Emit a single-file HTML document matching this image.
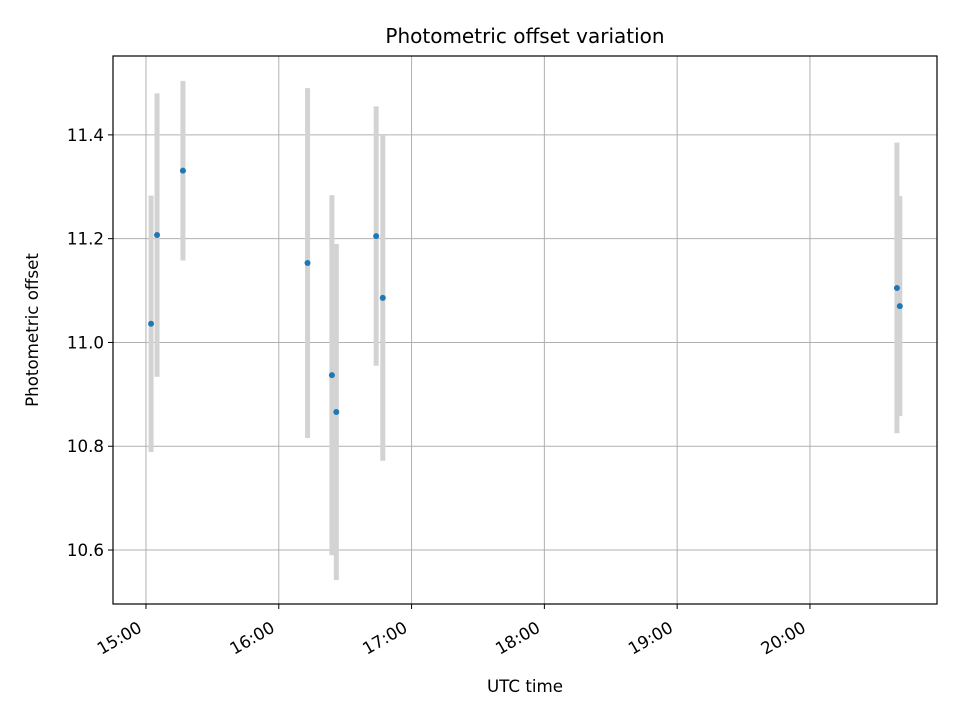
<!DOCTYPE html>
<html><head><meta charset="utf-8"><style>
body{margin:0;background:#fff}
svg{display:block;font-family:"DejaVu Sans","Liberation Sans",sans-serif}
</style></head><body>
<svg id="chart" width="960" height="720" viewBox="0 0 960 720" xmlns="http://www.w3.org/2000/svg">
<rect width="960" height="720" fill="#fff"/>
<g id="grid"></g>
<g id="errs"></g>
<g id="pts"></g>
<rect x="113" y="56" width="824" height="548" fill="none" stroke="#000" stroke-width="1.2"/>
<g id="ticks"></g>
<text x="525" y="43" text-anchor="middle" font-size="20">Photometric offset variation</text>
<text x="525" y="692" text-anchor="middle" font-size="16.7">UTC time</text>
<text transform="translate(38,330) rotate(-90)" text-anchor="middle" font-size="16.7">Photometric offset</text>
</svg>
<script>
// times in minutes after 15:00
const times=[2.3,5,16.7,73,84,86,104,107,339.3,340.6];
const values=[11.036,11.207,11.331,11.153,10.937,10.866,11.205,11.086,11.105,11.070];
const errors=[0.247,0.273,0.173,0.337,0.347,0.324,0.25,0.314,0.28,0.212];
const xTickLabels=["15:00","16:00","17:00","18:00","19:00","20:00"];
const xTickMinutes=[0,60,120,180,240,300];
const yTickValues=[10.6,10.8,11.0,11.2,11.4];
const yTickLabels=["10.6","10.8","11.0","11.2","11.4"];

const L=113,R=937,T=56,B=604;
const xmin=-14.9,xmax=357.4,ymin=10.496,ymax=11.552;
const X=m=>L+(m-xmin)/(xmax-xmin)*(R-L);
const Y=v=>B-(v-ymin)/(ymax-ymin)*(B-T);
const NS="http://www.w3.org/2000/svg";
function mk(tag,attrs,parent){const e=document.createElementNS(NS,tag);for(const k in attrs)e.setAttribute(k,attrs[k]);document.getElementById(parent).appendChild(e);return e;}

xTickMinutes.forEach((m,i)=>{
  const x=X(m);
  const g=mk("line",{x1:x,x2:x,y1:T,y2:B,stroke:"#b0b0b0","stroke-width":1},"grid");
  
  
  const t=mk("line",{x1:x,x2:x,y1:B,y2:B+5,stroke:"#000","stroke-width":1},"ticks");
  
  
  const lb=mk("text",{transform:`translate(${x-3},${B+27}) rotate(-30)`,"text-anchor":"end","font-size":"16.7"},"ticks");
  lb.textContent=xTickLabels[i];
  
  
});
yTickValues.forEach((v,i)=>{
  const y=Y(v);
  const g=mk("line",{x1:L,x2:R,y1:y,y2:y,stroke:"#b0b0b0","stroke-width":1},"grid");
  
  
  const t=mk("line",{x1:L-5,x2:L,y1:y,y2:y,stroke:"#000","stroke-width":1},"ticks");
  
  
  const lb=mk("text",{x:L-9,y:y+6,"text-anchor":"end","font-size":"16.7"},"ticks");
  lb.textContent=yTickLabels[i];
  
  
});
times.forEach((m,i)=>{
  const x=X(m);
  const e=mk("line",{x1:x,x2:x,y1:Y(values[i]+errors[i]),y2:Y(values[i]-errors[i]),stroke:"#d3d3d3","stroke-width":5},"errs");
  
  
  const p=mk("circle",{cx:x,cy:Y(values[i]),r:3,fill:"#1f77b4"},"pts");
  
  
});
</script>
</body></html>
